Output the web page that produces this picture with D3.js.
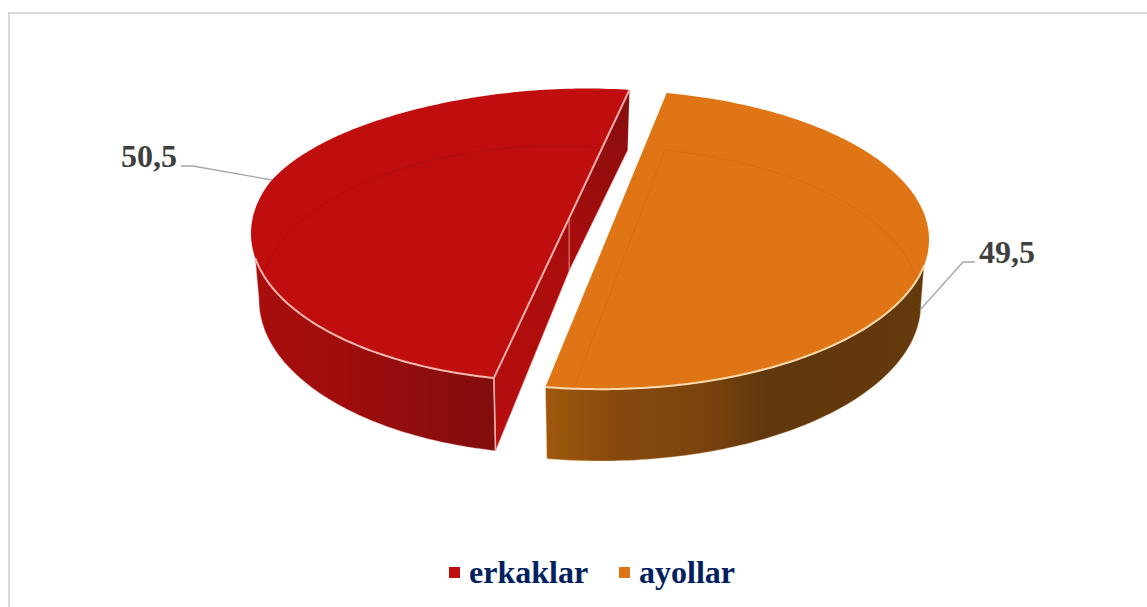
<!DOCTYPE html>
<html>
<head>
<meta charset="utf-8">
<script src="https://cdn.jsdelivr.net/npm/d3@7"></script>
<style>html,body{margin:0;padding:0;background:#fff;overflow:hidden}svg{display:block}</style>
</head>
<body>
<script>
const categories = ["erkaklar", "ayollar"];
const values = [50.5, 49.5];
const colors = ["#c00d0d", "#e07412"];

const W = 1147, H = 607;
const rad = d => d * Math.PI / 180;

// Perspective ellipses of each exploded slice: top face and base face
const geom = [
  {top:{cx:557,cy:233.4,rx:306,ry:147.7,flat:{from:290,to:373.8,amount:7}}, base:{cx:557,cy:300,rx:298,ry:154}, tilt:2.15,
   wallFrom:"start", wallTop:260.4, wallBase:270},
  {top:{cx:601,cy:239.6,rx:328,ry:149.6}, base:{cx:601,cy:304,rx:320,ry:157}, tilt:0,
   wallFrom:"end", wallTop:460, wallBase:450}
];
const rimColors = ["#f6b8b2", "#fcdcae"];
const faintColors = ["#b00c0c", "#d76e12"];
const labelLayout = [
  {x:121, y:167, leader:[[181,166],[193,166],[272,180]]},
  {x:979, y:263, leader:[[975,262],[963,262],[920,310]]}
];

const svg = d3.select("body").append("svg").attr("width", W).attr("height", H);
const defs = svg.append("defs");
defs.append("filter").attr("id","soft").attr("x","-5%").attr("y","-5%").attr("width","110%").attr("height","110%")
  .append("feGaussianBlur").attr("stdDeviation",0.5);

function grad(id, x1, x2, y1, y2, stops){
  const g = defs.append("linearGradient").attr("id",id).attr("gradientUnits","userSpaceOnUse")
    .attr("x1",x1).attr("x2",x2).attr("y1",y1).attr("y2",y2);
  stops.forEach(s => g.append("stop").attr("offset",s[0]).attr("stop-color",s[1]));
}
grad("wall0",258,496,0,0,[[0,"#a80d0d"],[0.35,"#a00c0c"],[0.7,"#8e0a0a"],[1,"#820a0a"]]);
grad("wall1",545,925,0,0,[[0,"#a05810"],[0.2,"#85480f"],[0.42,"#7a4311"],[0.58,"#613710"],[1,"#643a10"]]);
grad("cut0",496,630,451,120,[[0,"#b80b0b"],[0.55,"#ab0a0a"],[1,"#8c0a0a"]]);

// bg + frame
svg.append("rect").attr("width",W).attr("height",H).attr("fill","#fff");
svg.append("path").attr("d",`M9,${H}V13H${W}`).attr("fill","none").attr("stroke","#d9d9d9").attr("stroke-width",2);

const pie = d3.pie().sort(null).startAngle(rad(189.75)).endAngle(rad(189.75+360));
const arcs = pie(values);
const line = d3.line();

function pt(e, deg){
  const a = rad(deg);
  let y = e.cy - e.ry*Math.cos(a);
  if (e.flat && deg > e.flat.from && deg < e.flat.to) {
    y += e.flat.amount * Math.sin(Math.PI*(deg-e.flat.from)/(e.flat.to-e.flat.from));
  }
  return [e.cx + e.rx*Math.sin(a), y];
}
function arcPts(e, d0, d1){
  const n = Math.ceil(Math.abs(d1-d0)) + 1;
  return d3.range(n+1).map(k => pt(e, d0 + (d1-d0)*k/n));
}

const pieG = svg.append("g").attr("filter","url(#soft)");

arcs.forEach((d,i) => {
  const g = geom[i];
  const s = d.startAngle*180/Math.PI + g.tilt;
  const e = d.endAngle*180/Math.PI + g.tilt;
  const wallStart = g.wallFrom === "start" ? s : e;
  const sl = pieG.append("g");

  // red slice: visible cut face, bends at the hub
  if (i === 0) {
    const apexT = pt(g.top, e), apexB = pt(g.base, e);
    const cornerT = pt(g.top, s), cornerB = pt(g.base, s);
    const hubT = [apexT[0]+(cornerT[0]-apexT[0])*0.445, apexT[1]+(cornerT[1]-apexT[1])*0.43];
    const hubB = [hubT[0], hubT[1]+57];
    sl.append("path").attr("d", line([apexT,apexB,hubB,cornerB,cornerT])+"Z").attr("fill","url(#cut0)");
    sl.append("path").attr("d", line([hubT,hubB])).attr("fill","none").attr("stroke","#e58f8f").attr("stroke-width",1);
    sl.append("path").attr("d", line([apexB,hubB,cornerB])).attr("fill","none").attr("stroke","#f3a5a5").attr("stroke-width",0.6);
  }

  // outer wall
  const wall = arcPts(g.top, wallStart, g.wallTop).concat(arcPts(g.base, g.wallBase, wallStart));
  sl.append("path").attr("d", line(wall)+"Z").attr("fill",`url(#wall${i})`)
    .attr("stroke",rimColors[i]).attr("stroke-width",0.5).attr("stroke-opacity",0.8);

  // top face
  const topPts = [pt(g.top,s)].concat(arcPts(g.top,s,e));
  const topD = line(topPts)+"Z";
  defs.append("clipPath").attr("id",`clip${i}`).append("path").attr("d",topD);
  sl.append("path").attr("d",topD).attr("fill",colors[i]);

  // base outline faintly showing through the top face
  const basePts = arcPts(g.base,s,e);
  sl.append("path").attr("d", line(basePts)+"Z").attr("fill","none")
    .attr("stroke",faintColors[i]).attr("stroke-width",1).attr("clip-path",`url(#clip${i})`);

  // rim highlight along the front edge
  sl.append("path").attr("d", line(arcPts(g.top, wallStart, g.wallTop))).attr("fill","none")
    .attr("stroke",rimColors[i]).attr("stroke-width",2);
  if (i === 0) {
    sl.append("path").attr("d", line([pt(g.top,s),pt(g.base,s)])).attr("stroke","#f3b4b4").attr("stroke-width",1.6).attr("fill","none");
    sl.append("path").attr("d", line([pt(g.top,e),pt(g.top,s)])).attr("stroke","#f6b4b0").attr("stroke-width",2).attr("fill","none");
  }
});

// data labels + leaders
values.forEach((v,i) => {
  const L = labelLayout[i];
  svg.append("path").attr("d", line(L.leader)).attr("fill","none").attr("stroke","#a6a6a6").attr("stroke-width",1.3);
  svg.append("text").attr("x",L.x).attr("y",L.y).text(String(v).replace(".",","))
    .attr("font-family","'Liberation Serif',serif").attr("font-weight","bold").attr("font-size",32).attr("fill","#404040");
});

// legend
const legendX = [449, 619];
categories.forEach((c,i) => {
  svg.append("rect").attr("x",legendX[i]).attr("y",567).attr("width",11).attr("height",11).attr("fill",colors[i]);
  svg.append("text").attr("x",legendX[i]+20).attr("y",583).text(c)
    .attr("font-family","'Liberation Serif',serif").attr("font-weight","bold").attr("font-size",32).attr("fill","#002060");
});
</script>
</body>
</html>
